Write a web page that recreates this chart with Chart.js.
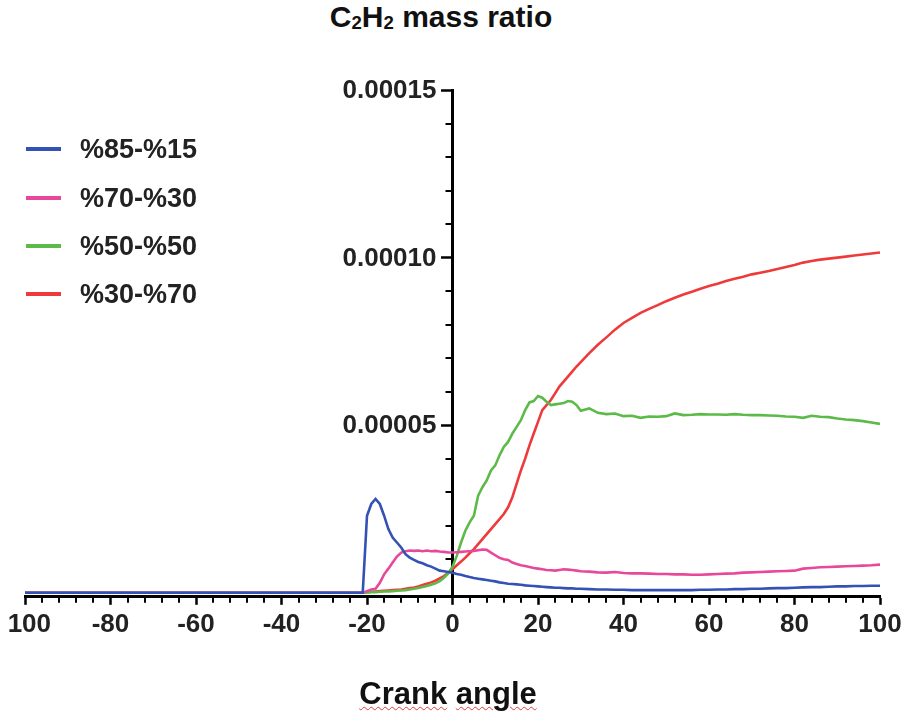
<!DOCTYPE html>
<html>
<head>
<meta charset="utf-8">
<script src="https://cdn.jsdelivr.net/npm/chart.js@4.4.1/dist/chart.umd.min.js"></script>
<style>
    html, body { margin: 0; padding: 0; background: #fff; }
    body { width: 905px; height: 714px; position: relative; overflow: hidden; font-family: 'Liberation Sans', Arial, sans-serif; }
    #title { position: absolute; left: 241px; top: 2px; width: 400px; text-align: center; font-size: 30px; line-height: 30px; font-weight: bold; color: #111; }
    #title sub { font-size: 0.62em; vertical-align: -0.12em; line-height: 0; }
    #crop { position: absolute; left: 8px; top: 0; width: 897px; height: 714px; overflow: hidden; }
    #chart { position: absolute; left: -28px; top: 0; }
    #legend { position: absolute; left: 0; top: 0; }
    .item { position: absolute; left: 26px; height: 30px; width: 200px; }
    .item .swatch { position: absolute; left: 0; top: 13px; width: 35px; height: 3.5px; }
    .item .label { position: absolute; left: 54px; top: 0; font-size: 27px; line-height: 30px; font-weight: bold; color: #222; }
    #xtitle { position: absolute; left: 298px; top: 679px; width: 300px; text-align: center; font-size: 31px; line-height: 30px; font-weight: bold; color: #111; }
    #xtitle span { text-decoration: underline wavy #e23a3a; text-decoration-thickness: 1px; text-underline-offset: 2px; }
</style>
</head>
<body>
<div id="title">C<sub>2</sub>H<sub>2</sub> mass ratio</div>
<div id="crop"><canvas id="chart" width="940" height="714"></canvas></div>
<div id="legend"></div>
<div id="xtitle"><span>Crank</span> <span>angle</span></div>
<script>
// Crank angle (deg) shared by all series
const angles = [
    -100, -80, -60, -40, -30, -25, -24, -23, -22, -21,
    -20, -19, -18, -17, -16, -15, -14, -13, -12, -11,
    -10, -9, -8, -7, -6, -5, -4, -3, -2, -1,
    0, 1, 2, 3, 4, 5, 6, 7, 8, 9,
    10, 11, 12, 13, 14, 15, 16, 17, 18, 19,
    20, 21, 22, 23, 24, 25, 26, 27, 28, 29, 30,
    32, 34, 36, 38, 40, 42, 44, 46, 48, 50,
    52, 54, 56, 58, 60, 62, 64, 66, 68, 70,
    72, 74, 76, 78, 80, 82, 84, 86, 88, 90,
    92, 94, 96, 98, 100
];

// C2H2 mass ratio, in units of 1e-5
const VALUE_UNIT = 1e-5;

const blue8515 = [
    0, 0, 0, 0, 0, 0, 0, 0, 0, 0,
    2.3, 2.65, 2.8, 2.65, 2.3, 1.9, 1.65, 1.5, 1.35, 1.15,
    1.05, 0.98, 0.92, 0.88, 0.82, 0.78, 0.72, 0.66, 0.64, 0.62,
    0.6, 0.56, 0.54, 0.5, 0.47, 0.44, 0.42, 0.4, 0.38, 0.36,
    0.34, 0.31, 0.29, 0.27, 0.26, 0.25, 0.24, 0.22, 0.21, 0.2,
    0.19, 0.18, 0.17, 0.16, 0.15, 0.15, 0.14, 0.13, 0.13, 0.12, 0.12,
    0.11, 0.1, 0.1, 0.09, 0.09, 0.08, 0.08, 0.08, 0.08, 0.08,
    0.08, 0.08, 0.08, 0.09, 0.09, 0.1, 0.1, 0.11, 0.11, 0.12,
    0.12, 0.13, 0.14, 0.14, 0.15, 0.16, 0.17, 0.17, 0.18, 0.19,
    0.19, 0.2, 0.2, 0.21, 0.21
];

const pink7030 = [
    0, 0, 0, 0, 0, 0, 0, 0, 0, 0,
    0.05, 0.1, 0.12, 0.3, 0.55, 0.72, 0.9, 1.08, 1.2, 1.24,
    1.26, 1.25, 1.26, 1.24, 1.26, 1.24, 1.25, 1.23, 1.22, 1.2,
    1.2, 1.21, 1.22, 1.23, 1.24, 1.25, 1.27, 1.29, 1.28, 1.2,
    1.12, 1.04, 1.0, 0.98, 0.9, 0.86, 0.82, 0.8, 0.77, 0.74,
    0.72, 0.7, 0.68, 0.67, 0.66, 0.68, 0.7, 0.69, 0.68, 0.66, 0.64,
    0.63, 0.61, 0.6, 0.62, 0.59, 0.58, 0.58, 0.57, 0.56, 0.56,
    0.55, 0.55, 0.54, 0.54, 0.55, 0.56, 0.57, 0.58, 0.6, 0.61,
    0.62, 0.63, 0.64, 0.65, 0.66, 0.72, 0.74, 0.76, 0.77, 0.78,
    0.79, 0.8, 0.81, 0.82, 0.84
];

const green5050 = [
    0, 0, 0, 0, 0, 0, 0, 0, 0, 0,
    0.01, 0.02, 0.02, 0.03, 0.04, 0.04, 0.05, 0.06, 0.07, 0.08,
    0.1, 0.12, 0.14, 0.17, 0.2, 0.24, 0.28, 0.35, 0.45, 0.58,
    0.78, 1.1, 1.5, 1.85, 2.1, 2.3, 2.9, 3.15, 3.35, 3.65,
    3.8, 4.1, 4.35, 4.5, 4.75, 4.95, 5.15, 5.45, 5.68, 5.72,
    5.87, 5.82, 5.7, 5.6, 5.62, 5.64, 5.66, 5.72, 5.7, 5.6, 5.43,
    5.5, 5.37, 5.33, 5.35, 5.27, 5.28, 5.22, 5.26, 5.25, 5.27,
    5.35, 5.3, 5.31, 5.33, 5.32, 5.32, 5.31, 5.33, 5.31, 5.3,
    5.3, 5.29, 5.28, 5.26, 5.25, 5.22, 5.28, 5.25, 5.24, 5.2,
    5.17, 5.15, 5.12, 5.08, 5.04
];

const red3070 = [
    0, 0, 0, 0, 0, 0, 0, 0, 0, 0,
    0.02, 0.03, 0.04, 0.05, 0.06, 0.07, 0.08, 0.09, 0.1, 0.12,
    0.14, 0.16, 0.19, 0.23, 0.27, 0.31, 0.36, 0.43, 0.5, 0.6,
    0.7, 0.82, 0.93, 1.05, 1.18, 1.3, 1.45, 1.6, 1.75, 1.9,
    2.05, 2.2, 2.35, 2.55, 2.85, 3.25, 3.65, 4.0, 4.4, 4.75,
    5.1, 5.45, 5.6, 5.75, 5.95, 6.15, 6.3, 6.45, 6.6, 6.75, 6.88,
    7.15, 7.4, 7.62, 7.85, 8.05, 8.2, 8.35, 8.47, 8.58, 8.7,
    8.8, 8.9, 8.98, 9.07, 9.15, 9.22, 9.3, 9.37, 9.43, 9.5,
    9.55, 9.6, 9.66, 9.72, 9.78, 9.85, 9.9, 9.94, 9.97, 10.0,
    10.03, 10.06, 10.09, 10.12, 10.15
];

const seriesNames = ['%85-%15', '%70-%30', '%50-%50', '%30-%70'];
const seriesValues = [blue8515, pink7030, green5050, red3070];
const seriesColors = ['#3452b4', '#e8489c', '#5cba48', '#ee3a3a'];

const xTickValues = [-100, -80, -60, -40, -20, 0, 20, 40, 60, 80, 100];
const xTickLabels = ['-100', '-80', '-60', '-40', '-20', '0', '20', '40', '60', '80', '100'];
const yTickValues = [0.00005, 0.0001, 0.00015];
const yTickLabels = ['0.00005', '0.00010', '0.00015'];

const FONT_FAMILY = "'Liberation Sans', Arial, sans-serif";
const tickFont = { family: FONT_FAMILY, size: 26, weight: 'bold' };

// Legend (HTML, overlaid on the left of the plot)
const legendEl = document.getElementById('legend');
const legendTops = [134, 183, 231, 279];
seriesNames.forEach((name, i) => {
    const item = document.createElement('div');
    item.className = 'item';
    item.style.top = legendTops[i] + 'px';
    item.innerHTML = '<div class="swatch" style="background:' + seriesColors[i] + '"></div><div class="label">' + name + '</div>';
    legendEl.appendChild(item);
});

// Minor tick marks on both axes, plus y labels left of the y axis (which sits at x = 0)
const axisExtras = {
    id: 'axisExtras',
    afterDraw(chart) {
        const { ctx, chartArea } = chart;
        const xs = chart.scales.x;
        const ys = chart.scales.y;
        const x0 = xs.getPixelForValue(0);
        ctx.save();
        ctx.strokeStyle = '#000';
        ctx.lineWidth = 2;
        ctx.beginPath();
        for (let a = -96; a < 100; a += 4) {
            if (a % 20 === 0) continue;
            const px = Math.round(xs.getPixelForValue(a));
            ctx.moveTo(px, chartArea.bottom);
            ctx.lineTo(px, chartArea.bottom + 6);
        }
        for (let k = 1; k < 15; k++) {
            if (k % 5 === 0) continue;
            const py = Math.round(ys.getPixelForValue(k * 1e-5));
            ctx.moveTo(x0, py);
            ctx.lineTo(x0 - 7, py);
        }
        ctx.stroke();

        ctx.fillStyle = '#222';
        ctx.font = 'bold 26px ' + FONT_FAMILY;
        ctx.textAlign = 'right';
        ctx.textBaseline = 'middle';
        yTickValues.forEach((v, i) => {
            ctx.fillText(yTickLabels[i], x0 - 16, ys.getPixelForValue(v) + 1);
        });
        ctx.restore();
    }
};

const datasets = seriesValues.map((vals, i) => ({
    label: seriesNames[i],
    data: angles.map((a, j) => ({ x: a, y: vals[j] * VALUE_UNIT })),
    borderColor: seriesColors[i],
    backgroundColor: seriesColors[i],
    borderWidth: 2.6,
    pointRadius: 0,
    tension: 0,
    fill: false
}));

new Chart(document.getElementById('chart'), {
    type: 'line',
    data: { datasets },
    options: {
        responsive: false,
        animation: false,
        layout: { padding: { left: 45, right: 40, top: 90, bottom: 70 } },
        plugins: {
            legend: { display: false },
            tooltip: { enabled: false },
            title: { display: false }
        },
        scales: {
            x: {
                type: 'linear',
                position: 'bottom',
                min: -100,
                max: 100,
                afterBuildTicks: (scale) => { scale.ticks = xTickValues.map(v => ({ value: v })); },
                ticks: {
                    autoSkip: false,
                    maxRotation: 0,
                    padding: 4,
                    color: '#222',
                    font: tickFont,
                    callback: (v, i) => xTickLabels[i]
                },
                grid: { drawOnChartArea: false, drawTicks: true, tickLength: 8, tickWidth: 2.5, tickColor: '#000' },
                border: { display: true, color: '#000', width: 3 }
            },
            y: {
                type: 'linear',
                position: { x: 0 },
                min: -0.0000012,
                max: 0.00015,
                afterBuildTicks: (scale) => { scale.ticks = yTickValues.map(v => ({ value: v })); },
                ticks: { display: false },
                grid: { drawOnChartArea: false, drawTicks: true, tickLength: 10, tickWidth: 2.5, tickColor: '#000' },
                border: { display: true, color: '#000', width: 3 }
            }
        }
    },
    plugins: [axisExtras]
});
</script>
</body>
</html>
